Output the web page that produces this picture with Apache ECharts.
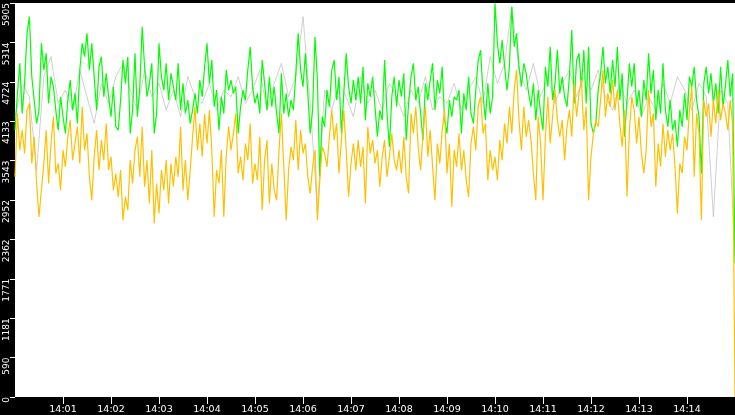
<!DOCTYPE html>
<html>
<head>
<meta charset="utf-8">
<script src="https://cdn.jsdelivr.net/npm/echarts@6/dist/echarts.min.js"></script>
<style>
  html, body { margin: 0; padding: 0; background: #000; }
  #chart { width: 735px; height: 415px; }
</style>
</head>
<body>
<div id="chart"></div>
<script>
// Samples, one every 3 s from 14:00:00, last one at 14:15:00
const sampleStep = 3;

const greenValues = [
    4000, 4550, 5000, 4250, 4700, 5450, 5700, 4800, 4450, 4100, 4300, 5300, 4900, 5150, 4400, 4800, 4650, 4300, 4000, 4500, 4200, 3950,
    4450, 4750, 4300, 4550, 4100, 4900, 5300, 5100, 5450, 4900, 5300, 4800, 4300, 4950, 5100, 4500, 4850, 4500, 4200, 4650, 4050,
    4000, 4450, 5050, 4700, 5100, 3950, 4300, 5150, 4200, 4650, 5550, 4950, 4500, 4700, 5000, 3950, 4250, 5300, 4800, 4600, 5000, 4450,
    4850, 4650, 4450, 5000, 4300, 4700, 4250, 4450, 4100, 4300, 4550, 4250, 4750, 4500, 4950, 5300, 4700, 5050, 4350, 4600, 4000,
    4500, 4250, 4900, 4600, 4750, 4550, 4650, 3950, 4350, 4600, 4450, 4900, 5250, 4650, 4400, 4550, 4250, 5050, 4700, 4300, 4800, 4350,
    4650, 4250, 3950, 4850, 4250, 4550, 4200, 4450, 4300, 4850, 5450, 4900, 4650, 5150, 4550, 3950, 4300, 5400, 4750, 3300, 4200,
    4050, 4600, 4350, 4900, 5050, 4450, 4800, 3950, 4550, 5150, 4650, 4400, 4750, 4450, 4800, 4400, 4950, 4150, 4700, 4500, 4800, 4350,
    3900, 4300, 4150, 5050, 4250, 3750, 4500, 4800, 4350, 4750, 4500, 4850, 3850, 4400, 4800, 5000, 4450, 4650, 4250, 3850, 4700,
    4450, 4750, 5000, 4300, 4750, 4550, 4950, 4150, 3950, 4450, 4200, 4500, 4450, 4600, 3950, 4550, 4300, 4800, 4250, 4100, 4600, 5050,
    5200, 4550, 4150, 4700, 4250, 4500, 5900, 5300, 5000, 5350, 4950, 4600, 4950, 5850, 5250, 5450, 4950, 4650, 5000, 4850, 4550,
    4350, 4700, 4150, 4600, 4250, 4000, 4950, 4650, 5250, 4450, 4700, 5200, 4550, 4800, 4500, 4350, 4800, 5500, 4400, 5050, 5150, 4650,
    5200, 4400, 5250, 4100, 3950, 4100, 4600, 4850, 5250, 4700, 4950, 4550, 5050, 4650, 5250, 4450, 4850, 3900, 4450, 5000, 4650,
    5000, 4350, 4600, 4200, 4750, 4450, 5150, 4550, 4900, 4150, 4600, 4250, 5000, 4300, 4050, 4450, 4000, 4150, 3750, 4300, 4050,
    4550, 4150, 4800, 4650, 4950, 4450, 4200, 3350, 4700, 4950, 4550, 4850, 4400, 4700, 4250, 4950, 4350, 4650, 5050, 4500, 4850,
    2000
];

const orangeValues = [
    3300, 4250, 3700, 4000, 3650, 4300, 4400, 3500, 3900, 3200, 2700, 3100, 3500, 4000, 3200, 3800, 4200, 3350, 3500, 3100, 3700, 3450,
    3900, 4150, 3550, 3800, 4050, 3500, 4350, 3700, 3950, 3300, 2950, 3600, 4000, 3400, 3850, 3550, 4100, 3400, 3600, 3100, 3350,
    3000, 3400, 2650, 3000, 2800, 3550, 3200, 3700, 3900, 3300, 4050, 3150, 3550, 2900, 3700, 2600, 3200, 2750, 3400, 3100, 3550, 2900,
    3500, 3150, 3600, 3300, 4050, 3100, 3550, 2950, 3400, 3900, 4350, 3700, 4100, 3600, 4250, 3800, 4300, 3700, 2700, 3400, 3200,
    3700, 2700, 3600, 4050, 3700, 3950, 4250, 3350, 3600, 3250, 3800, 3550, 4100, 3200, 3500, 3250, 3900, 2800, 3550, 3850, 2900, 3500,
    3100, 2950, 3700, 4250, 3450, 2650, 3400, 3750, 3550, 4150, 3400, 4000, 3650, 3800, 3300, 3050, 3450, 3700, 2650, 3250, 3750,
    3650, 3450, 3900, 4300, 3850, 4100, 3350, 3850, 4300, 3700, 3000, 3500, 3800, 3400, 3850, 3450, 3750, 2900, 4050, 3650, 3850, 3500,
    3700, 3150, 3600, 3850, 3300, 3600, 3950, 3550, 3400, 3700, 3350, 3900, 3300, 3050, 4250, 3950, 4350, 3750, 3400, 3950, 4350,
    3600, 4000, 3450, 2950, 3800, 3500, 4000, 4300, 3350, 3800, 2850, 3700, 3450, 3950, 3400, 3700, 3250, 3000, 3800, 4050, 3700, 4350,
    4500, 3950, 4100, 3250, 3700, 3400, 3600, 3250, 3850, 3550, 4100, 3800, 4350, 3950, 4600, 4900, 4150, 3700, 4350, 3900, 4150,
    3850, 3350, 2950, 4200, 3800, 2950, 3900, 4500, 3800, 4200, 4600, 4150, 3900, 4150, 3550, 4050, 4300, 3900, 4700, 4200, 4550, 4750,
    4000, 4350, 2950, 3600, 3950, 4150, 4050, 4450, 4900, 4200, 4550, 4350, 4750, 4300, 4600, 4100, 3750, 4300, 3000, 4000, 4500,
    4300, 3800, 4200, 3650, 3350, 3700, 4600, 4050, 4250, 3150, 3800, 3450, 4100, 3600, 4000, 3700, 3950, 3450, 2750, 3500, 3350,
    3900, 3700, 4300, 4650, 3300, 4250, 3950, 2650, 4450, 4200, 4400, 3900, 4450, 4100, 4600, 4150, 4400, 4250, 4000, 4450, 4100,
    0
];

// the grey series is sparser, one sample every 9 s
const grayStep = 9;
const grayValues = [
    4200, 4700, 4500, 3400, 4800, 5100, 4400, 4600, 4300, 4900,
    4500, 4100, 4700, 4400, 4800, 5000, 4600, 4300, 4900, 4500,
    4700, 4300, 4600, 4200, 4800, 4500, 4400, 4700, 4300, 4600,
    4500, 4800, 4400, 4600, 4900, 4300, 4700, 5000, 4500, 4800,
    5700, 4400, 2800, 4600, 4300, 4700, 4500, 4200, 4800, 4400,
    4600, 4300, 4700, 4500, 4200, 4600, 4400, 4800, 4300, 4500,
    4400, 4700, 4300, 4600, 4800, 4400, 5100, 4700, 5000, 5850,
    4900, 4600, 5000, 4500, 4800, 4400, 4700, 4900, 4500, 4800,
    4600, 4900, 4500, 4300, 4700, 4400, 4600, 4200, 4500, 4300,
    4700, 4400, 4800, 4600, 4300, 4700, 4500, 2700, 4600, 4400,
    2100
];

const yTickLabels = ['0', '590', '1181', '1771', '2362', '2952', '3543', '4133', '4724', '5314', '5905'];
const xTickLabels = ['14:01', '14:02', '14:03', '14:04', '14:05', '14:06', '14:07',
                     '14:08', '14:09', '14:10', '14:11', '14:12', '14:13', '14:14'];

const yMax = 5905;
const yStep = yMax / 10;

function toPoints(values, step) {
    return values.map((v, i) => [i * step, v]);
}

const xTickValues = xTickLabels.map((_, i) => (i + 1) * 60);

const chart = echarts.init(document.getElementById('chart'));

chart.setOption({
    backgroundColor: '#000',
    animation: false,
    grid: {
        left: 15,
        right: 0,
        top: 0,
        bottom: 17,
        show: true,
        backgroundColor: '#fff',
        borderWidth: 0
    },
    xAxis: {
        type: 'value',
        min: 0,
        max: 900,
        axisLine: { show: false },
        splitLine: { show: false },
        axisTick: {
            show: true,
            length: 7,
            customValues: xTickValues,
            lineStyle: { color: '#fff', width: 1 }
        },
        axisLabel: {
            customValues: xTickValues,
            color: '#fff',
            fontSize: 9.5,
            fontFamily: 'DejaVu Sans',
            margin: 8,
            formatter: (v) => xTickLabels[Math.round(v / 60) - 1]
        }
    },
    yAxis: {
        type: 'value',
        min: 0,
        max: yMax,
        interval: yStep,
        axisLine: { show: false },
        splitLine: { show: false },
        axisTick: {
            show: true,
            length: 5,
            lineStyle: { color: '#fff', width: 1 }
        },
        axisLabel: {
            color: '#fff',
            fontSize: 9,
            fontFamily: 'DejaVu Sans',
            rotate: 90,
            align: 'right',
            verticalAlign: 'bottom',
            margin: 4,
            formatter: (v) => yTickLabels[Math.round(v / yStep)]
        }
    },
    series: [
        {
            name: 'gray',
            type: 'line',
            data: toPoints(grayValues, grayStep),
            showSymbol: false,
            silent: true,
            lineStyle: { color: '#c4c4c4', width: 0.8 }
        },
        {
            name: 'green',
            type: 'line',
            data: toPoints(greenValues, sampleStep),
            showSymbol: false,
            silent: true,
            lineStyle: { color: '#00ff00', width: 1.2 }
        },
        {
            name: 'orange',
            type: 'line',
            data: toPoints(orangeValues, sampleStep),
            showSymbol: false,
            silent: true,
            lineStyle: { color: '#ffc000', width: 1.2 }
        }
    ]
});
</script>
</body>
</html>
